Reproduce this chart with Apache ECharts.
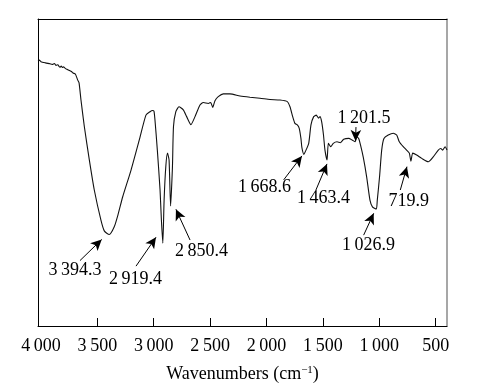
<!DOCTYPE html>
<html>
<head>
<meta charset="utf-8">
<script src="https://cdn.jsdelivr.net/npm/echarts@6/dist/echarts.min.js"></script>
<style>
html,body{margin:0;padding:0;background:#fff;}
#chart{width:477px;height:392px;}
</style>
</head>
<body>
<div id="chart"></div>
<script>
// Spectrum: wavenumber (cm-1) and transmittance (arbitrary %)
var wavenumbers = [4026,4014,4000,3960,3920,3900,3880,3866,3850,3840,3831,3820,3810,3800,3787,3770,3748,3730,3716,3695,3674,3662,3645,3615,3571,3527,3468,3437,3394.3,3350,3317,3275,3201,3128,3069,3033,3011,2998,2989,2968,2944,2932,2919.4,2908,2893,2878,2864,2850.4,2834,2825,2804,2776,2738,2708,2670,2634,2590,2561,2516,2495,2477,2457,2428,2383,2324,2235,2147,2058,1969,1881,1816,1792,1768,1748,1727,1710,1695,1686,1668.6,1656,1626,1606,1582,1559,1538,1526,1511,1495,1482,1463.4,1452,1431,1408,1375,1346,1316,1271,1242,1213,1201.5,1183,1167,1142,1112,1083,1061,1026.9,1018,998,979,959,921,876,846,823,788,758,734,719.9,704,669,624,566,522,477,455,438,417,400];
var transmittance = [86.4,86.6,86.1,85.7,85.4,85.2,85.5,84.9,85.1,84.6,84.3,84.7,84.2,84.4,84.0,83.6,83.2,82.9,82.4,82.1,80.1,79.2,73.6,64.9,54.1,44.3,34.5,30.9,29.8,32.3,36.2,42.1,50.8,60.6,68.7,69.8,70.2,70.0,67.1,57.3,44.3,34.5,27.0,41.0,51.9,56.3,54.1,39.1,51.9,64.9,69.8,71.4,70.4,68.2,65.6,68.2,72.0,72.8,72.5,72.8,71.2,73.4,74.7,75.6,75.6,74.9,74.5,74.2,73.8,73.6,73.1,71.4,68.2,66.0,65.5,64.4,61.1,58.0,55.9,56.8,59.5,65.5,68.2,68.7,67.7,68.2,66.5,62.2,57.3,54.1,59.5,58.4,59.5,60.0,59.7,60.8,61.1,60.6,60.0,61.7,61.1,59.0,54.9,48.5,41.0,38.8,38.1,41.0,48.6,57.3,61.1,62.2,62.8,62.2,60.0,58.4,57.3,56.3,53.7,56.3,55.7,54.6,53.5,55.1,57.3,57.8,57.3,58.4,57.3];

// Tick values
var tickLabels = [500,1000,1500,2000,2500,3000,3500,4000];
var tickMarks = [500,1000,1500,2000,2500,3000,3500];

// Peak annotations (data coordinates)
var peakLabels = ['3\u2009394.3','2\u2009919.4','2\u2009850.4','1\u2009668.6','1\u2009463.4','1\u2009201.5','719.9','1\u2009026.9'];
var labelPos = [[3698,18.2],[3162,15.3],[2576,24.2],[2018,45.3],[1495,41.7],[1136,67.8],[740,40.5],[1096,26.4]];
var arrowTail = [[3654,21.3],[3157,19.5],[2678,28.0],[1848,47.6],[1562,44.3],[1207,64.8],[814,44.3],[1139,29.6]];
var arrowTip = [[3461,28.2],[2980,28.9],[2803,38.0],[1686,55.4],[1464,52.8],[1211,60.3],[755,51.9],[1050,36.7]];

var FONT = '"Liberation Serif","Times New Roman",serif';

function fmt(v){
  var s = String(v);
  if (v >= 1000) s = s.slice(0, s.length-3) + '\u2009' + s.slice(s.length-3);
  return s;
}

var spectrum = wavenumbers.map(function(w,i){ return [w, transmittance[i]]; });
var arrows = arrowTail.map(function(t,i){ return [{coord:t},{coord:arrowTip[i]}]; });
var labels = labelPos.map(function(p,i){ return {value:p, name:peakLabels[i]}; });

var chart = echarts.init(document.getElementById('chart'), null, {renderer:'canvas'});
chart.setOption({
  animation:false,
  backgroundColor:'#fff',
  grid:{left:38, right:30, top:19, bottom:66, show:false},
  xAxis:[{
    type:'value', inverse:true, min:400, max:4026,
    axisLine:{show:true, onZero:false, lineStyle:{color:'#000', width:1}},
    axisTick:{show:true, inside:true, length:8, customValues:tickMarks, lineStyle:{color:'#000'}},
    axisLabel:{show:true, customValues:tickLabels, formatter:fmt, color:'#000', fontFamily:FONT, fontSize:18, margin:11},
    splitLine:{show:false},
    name:'Wavenumbers (cm{sup|\u22121})',
    nameLocation:'middle', nameGap:39,
    nameTextStyle:{color:'#000', fontFamily:FONT, fontSize:18,
      rich:{sup:{fontFamily:FONT, fontSize:11, color:'#000', verticalAlign:'top', padding:[0,0,8,0]}}}
  },{
    type:'value', position:'top', inverse:true, min:400, max:4026,
    axisLine:{show:true, onZero:false, lineStyle:{color:'#000', width:1}},
    axisTick:{show:false}, axisLabel:{show:false}, splitLine:{show:false}
  }],
  yAxis:[{
    type:'value', min:0, max:100,
    axisLine:{show:true, onZero:false, lineStyle:{color:'#000', width:1}},
    axisTick:{show:false}, axisLabel:{show:false}, splitLine:{show:false}
  },{
    type:'value', position:'right', min:0, max:100,
    axisLine:{show:true, onZero:false, lineStyle:{color:'#8a8a8a', width:1.5}},
    axisTick:{show:false}, axisLabel:{show:false}, splitLine:{show:false}
  }],
  series:[{
    type:'line', data:spectrum, showSymbol:false, smooth:0.2,
    lineStyle:{color:'#111', width:1.1},
    markLine:{
      silent:true, symbol:['none','arrow'], symbolSize:[8,11],
      lineStyle:{color:'#000', width:1, type:'solid'},
      label:{show:false},
      data:arrows
    }
  },{
    type:'scatter', data:labels, symbolSize:1, silent:true,
    itemStyle:{color:'rgba(0,0,0,0)', opacity:1},
    label:{show:true, position:'inside', formatter:'{b}', color:'#000', opacity:1, fontFamily:FONT, fontSize:18}
  }]
});
</script>
</body>
</html>
